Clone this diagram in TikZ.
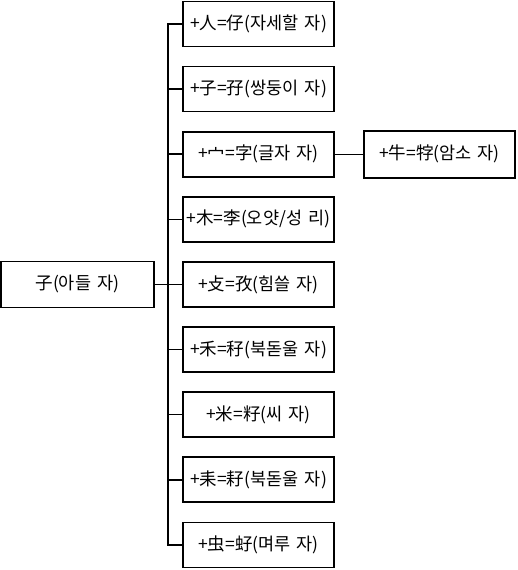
\documentclass[tikz,border=0pt]{standalone}
\usepackage{fontspec}
\setmainfont{Noto Sans CJK KR}[WordSpace=1.6]
\usetikzlibrary{positioning}

\begin{document}
\begin{tikzpicture}[
    x=1pt, y=-1pt,
    node distance=20.1pt and 30pt,
    box/.style={draw, rectangle, line width=1.6pt, outer sep=0pt, minimum width=151pt, minimum height=45pt, inner sep=0pt, align=center, font=\fontsize{17.5}{19}\selectfont},
    link/.style={line width=1.6pt},
    sidelink/.style={line width=0.9pt}
]
    \useasboundingbox (0,0) rectangle (518,570);

    \node[box] (b1) at (258.5,24) {+人=仔(자세할 자)};
    \node[box] (b2) [below=of b1] {+子=孖(쌍둥이 자)};
    \node[box] (b3) [below=of b2] {+宀=字(글자 자)};
    \node[box] (b4) [below=of b3] {+木=李(오얏/성 리)};
    \node[box] (b5) [below=of b4] {+攴=孜(힘쓸 자)};
    \node[box] (b6) [below=of b5] {+禾=秄(북돋울 자)};
    \node[box] (b7) [below=of b6] {+米=籽(씨 자)};
    \node[box] (b8) [below=of b7] {+耒=耔(북돋울 자)};
    \node[box] (b9) [below=of b8] {+虫=虸(며루 자)};
    \node[box, minimum width=153pt, minimum height=46pt] (root) [left=29pt of b5] {子(아들 자)};
    \node[box, minimum height=47pt] (leaf) [right=30pt of b3] {+牛=牸(암소 자)};

    \draw[link] (root.east) -- ++(14pt,0) coordinate (hub);
    \foreach \n in {1,...,9}
        \draw[link] (hub) |- (b\n.west);
    \draw[sidelink] (b3) -- (leaf);
\end{tikzpicture}
\end{document}
